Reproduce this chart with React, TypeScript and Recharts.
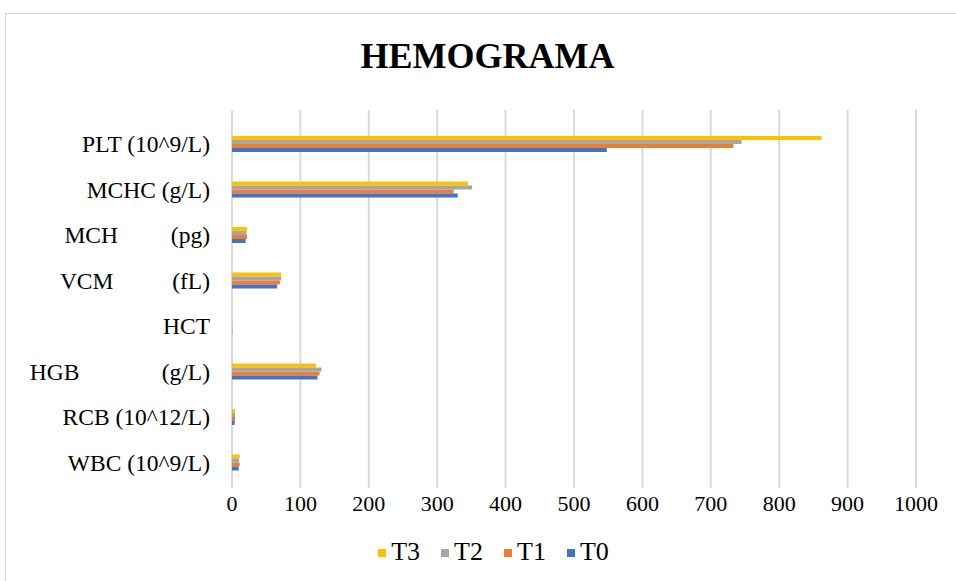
import React from 'react';
import { BarChart, Bar, XAxis, YAxis, CartesianGrid, Legend } from 'recharts';

const categories = [
  'PLT (10^9/L)',
  'MCHC (g/L)',
  'MCH         (pg)',
  'VCM          (fL)',
  'HCT',
  'HGB              (g/L)',
  'RCB (10^12/L)',
  'WBC (10^9/L)',
];
const t3Values = [862, 345, 22, 72, 0.42, 123, 4.6, 11.5];
const t2Values = [745, 351, 21, 72, 0.41, 131, 4.4, 10.2];
const t1Values = [733, 324, 22, 70, 0.4, 128, 4.5, 11.2];
const t0Values = [548, 330, 20, 66, 0.39, 125, 3.8, 9.8];
const xTicks = [0, 100, 200, 300, 400, 500, 600, 700, 800, 900, 1000];

const series = [
  { key: 'T3', color: '#FFC000' },
  { key: 'T2', color: '#A5A5A5' },
  { key: 'T1', color: '#ED7D31' },
  { key: 'T0', color: '#4472C4' },
];

const data = categories.map((name, i) => ({
  name,
  T3: t3Values[i],
  T2: t2Values[i],
  T1: t1Values[i],
  T0: t0Values[i],
}));

const FONT = '"Liberation Serif", "Times New Roman", serif';

const YTick = (props: any) => {
  const { x, y, payload } = props;
  return (
    <text
      x={x}
      y={y}
      dy="0.355em"
      textAnchor="end"
      fill="#000"
      style={{ whiteSpace: 'pre', fontFamily: FONT, fontSize: 23.5 }}
    >
      {payload.value}
    </text>
  );
};

const LegendContent = (props: any) => {
  const payload = props.payload || [];
  const ordered = series.map((s) => {
    const found = payload.find((p: any) => p.dataKey === s.key || p.value === s.key);
    return { value: s.key, color: found ? found.color : s.color };
  });
  return (
    <div
      style={{
        display: 'flex',
        justifyContent: 'center',
        alignItems: 'center',
        height: 26,
        fontFamily: FONT,
        fontSize: 26,
        lineHeight: '26px',
        color: '#000',
        gap: 21,
      }}
    >
      {ordered.map((p: any) => (
        <div key={p.value} style={{ display: 'flex', alignItems: 'center' }}>
          <span style={{ display: 'inline-block', width: 8, height: 8, background: p.color, marginRight: 5, marginTop: 2 }} />
          <span>{p.value}</span>
        </div>
      ))}
    </div>
  );
};

export default function App() {
  return (
    <div style={{ position: 'fixed', left: 0, top: 0, width: 956, height: 581, background: '#fff', overflow: 'hidden' }}>
      <div
        style={{
          position: 'absolute',
          left: 5,
          top: 13,
          width: 1000,
          height: 1000,
          border: '1px solid #d9d9d9',
        }}
      />
      <div
        style={{
          position: 'absolute',
          left: 0,
          top: 38,
          width: 975,
          textAlign: 'center',
          fontFamily: FONT,
          fontWeight: 'bold',
          fontSize: 36,
          lineHeight: '36px',
          color: '#000',
        }}
      >
        HEMOGRAMA
      </div>
      <div style={{ position: 'absolute', left: 0, top: 0 }}>
        <BarChart
          width={956}
          height={581}
          data={data}
          layout="vertical"
          margin={{ top: 110, right: 40, bottom: 63, left: 0 }}
          barGap={0}
        >
          <CartesianGrid horizontal={false} vertical={true} stroke="#d9d9d9" strokeWidth={2} />
          <XAxis
            type="number"
            domain={[0, 1000]}
            ticks={xTicks}
            axisLine={false}
            tickLine={false}
            tickSize={0}
            tickMargin={7}
            height={30}
            interval={0}
            tick={{ fill: '#000', fontSize: 22, fontFamily: FONT }}
          />
          <YAxis
            type="category"
            dataKey="name"
            width={232}
            axisLine={false}
            tickLine={false}
            tickSize={0}
            tickMargin={22}
            interval={0}
            padding={{ top: 11, bottom: 3 }}
            tick={<YTick />}
          />
          {series.map((s) => (
            <Bar key={s.key} dataKey={s.key} name={s.key} fill={s.color} barSize={4} isAnimationActive={false} />
          ))}
          <Legend
            layout="horizontal"
            verticalAlign="middle"
            align="center"
            content={<LegendContent />}
            wrapperStyle={{ position: 'absolute', top: 539, left: 0, width: 987, height: 26, margin: 0 }}
          />
        </BarChart>
      </div>
    </div>
  );
}
